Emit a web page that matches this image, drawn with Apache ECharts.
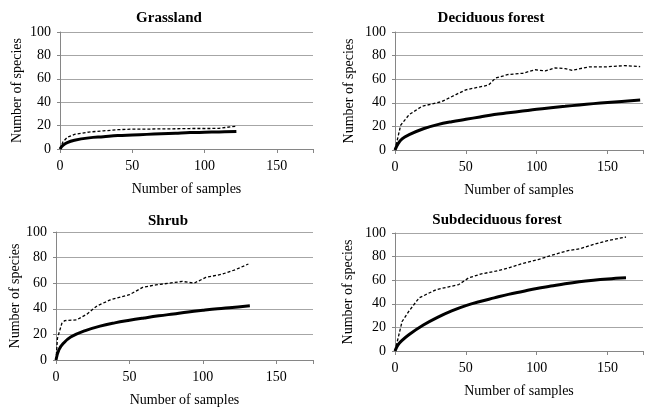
<!DOCTYPE html>
<html>
<head>
<meta charset="utf-8">
<script src="https://cdn.jsdelivr.net/npm/echarts@6/dist/echarts.min.js"></script>
<style>
html,body{margin:0;padding:0;background:#fff;}
#chart{width:646px;height:410px;}
</style>
</head>
<body>
<div id="chart"></div>
<script>
// ---- Data ----
var panelTitles = ['Grassland', 'Deciduous forest', 'Shrub', 'Subdeciduous forest'];
var xTicks = [0, 50, 100, 150];
var yTicks = [0, 20, 40, 60, 80, 100];

var grassSolidX = [0, 2, 5, 10, 20, 30, 40, 50, 60, 70, 80, 90, 100, 110, 122];
var grassSolidY = [0, 3, 5.5, 7.5, 9.5, 10.5, 11.5, 12, 12.5, 13, 13.5, 14, 14.3, 14.6, 15];
var grassDashX = [0, 2, 5, 10, 20, 30, 40, 50, 60, 70, 80, 90, 100, 110, 115, 122];
var grassDashY = [0, 6, 10, 12.5, 14.5, 15.5, 16.5, 17, 17, 17.2, 17.3, 17.5, 17.5, 17.6, 18.5, 19.5];

var decidSolidX = [0, 2, 5, 10, 20, 30, 40, 50, 60, 70, 80, 90, 100, 110, 120, 130, 140, 150, 160, 173];
var decidSolidY = [0, 5, 9.5, 13, 18, 21.5, 24, 26, 28, 30, 31.5, 33, 34.5, 35.8, 37, 38.2, 39.3, 40.3, 41.2, 42.3];
var decidDashX = [0, 4, 10, 19, 33, 43, 50, 66, 71, 80, 90, 99, 106, 113, 120, 125, 132, 137, 148, 162, 173];
var decidDashY = [0, 21, 30, 37, 41, 47, 51, 55, 61, 64, 65, 68, 67, 69.6, 69, 67.5, 69.3, 70.4, 70.4, 71.5, 70.7];

var shrubSolidX = [0, 2, 5, 10, 20, 30, 40, 50, 60, 70, 80, 90, 100, 110, 120, 132];
var shrubSolidY = [0, 8, 13, 18, 23, 26.5, 29, 31, 32.8, 34.5, 36, 37.5, 38.8, 40, 41, 42.3];
var shrubDashX = [0, 1, 4, 6, 14, 21, 28, 37, 50, 59, 68, 77, 86, 94, 102, 113, 122, 131];
var shrubDashY = [0, 17, 28.7, 30.8, 31.3, 35.8, 42.3, 47, 51, 56.7, 58.7, 60, 61.4, 60, 64.5, 67, 70.5, 75];

var subdSolidX = [0, 2, 5, 10, 20, 30, 40, 50, 60, 70, 80, 90, 100, 110, 120, 130, 140, 150, 163];
var subdSolidY = [0, 5, 9, 14, 22, 28.5, 34, 38.5, 42, 45, 48, 50.5, 53, 55, 57, 58.7, 60, 61, 62];
var subdDashX = [0, 5, 10, 17, 29, 38, 45, 52, 61, 71, 80, 89, 101, 113, 122, 131, 141, 150, 163];
var subdDashY = [0, 25, 34, 45, 52, 54.4, 56.3, 62, 65.4, 67.6, 70.4, 73.8, 77.5, 82, 85, 86.8, 90.7, 93.5, 96.6];

function zip(xs, ys) { return xs.map(function (x, i) { return [x, ys[i]]; }); }

var panels = [
  { solid: zip(grassSolidX, grassSolidY), dash: zip(grassDashX, grassDashY) },
  { solid: zip(decidSolidX, decidSolidY), dash: zip(decidDashX, decidDashY) },
  { solid: zip(shrubSolidX, shrubSolidY), dash: zip(shrubDashX, shrubDashY) },
  { solid: zip(subdSolidX, subdSolidY), dash: zip(subdDashX, subdDashY) }
];

// ---- Layout ----
var grids = [
  { left: 60, top: 32, width: 253, height: 117 },
  { left: 395, top: 32, width: 250, height: 118 },
  { left: 56, top: 232, width: 257, height: 128 },
  { left: 395, top: 233, width: 250, height: 118 }
];
var titlePos = [[169, 11], [491, 11], [168, 214], [497, 213]];
var yNameGap = [36, 39, 33, 40];

var font = 'Liberation Serif, Times New Roman, serif';
var option = {
  animation: false,
  backgroundColor: '#fff',
  textStyle: { fontFamily: font, color: '#000' },
  title: [], grid: [], xAxis: [], yAxis: [], series: []
};

grids.forEach(function (g, i) {
  option.grid.push({ left: g.left, top: g.top, width: g.width, height: g.height, containLabel: false });
  option.title.push({
    text: panelTitles[i],
    left: titlePos[i][0],
    top: titlePos[i][1],
    textAlign: 'center',
    padding: 0,
    textStyle: { fontFamily: font, fontWeight: 'bold', fontSize: 15, color: '#000' }
  });
  option.xAxis.push({
    type: 'value', gridIndex: i, min: 0, max: 175, interval: 50,
    name: 'Number of samples', nameLocation: 'middle', nameGap: 33,
    nameTextStyle: { fontFamily: font, fontSize: 14, color: '#000' },
    axisLine: { show: true, onZero: false, lineStyle: { color: '#868686', width: 1 } },
    axisTick: { show: true, length: 4, lineStyle: { color: '#868686' } },
    axisLabel: { fontFamily: font, fontSize: 14, color: '#000', margin: 10,
      formatter: function (v) { return xTicks.indexOf(v) >= 0 ? String(v) : ''; } },
    splitLine: { show: false }
  });
  option.yAxis.push({
    type: 'value', gridIndex: i, min: 0, max: 100, interval: 20,
    name: 'Number of species', nameLocation: 'middle', nameGap: yNameGap[i],
    nameTextStyle: { fontFamily: font, fontSize: 14, color: '#000' },
    axisLine: { show: true, lineStyle: { color: '#868686', width: 1 } },
    axisTick: { show: true, length: 3, lineStyle: { color: '#868686' } },
    axisLabel: { fontFamily: font, fontSize: 14, color: '#000', margin: 9,
      formatter: function (v) { return yTicks.indexOf(v) >= 0 ? String(v) : ''; } },
    splitLine: { show: true, lineStyle: { color: '#a6a6a6', width: 1 } }
  });
  option.series.push({
    type: 'line', xAxisIndex: i, yAxisIndex: i, data: panels[i].dash,
    showSymbol: false, symbol: 'none', smooth: false,
    lineStyle: { color: '#000', width: 1.3, type: [3, 2] }, z: 3
  });
  option.series.push({
    type: 'line', xAxisIndex: i, yAxisIndex: i, data: panels[i].solid,
    showSymbol: false, symbol: 'none', smooth: 0.4,
    lineStyle: { color: '#000', width: 3 }, z: 4
  });
});

var chart = echarts.init(document.getElementById('chart'), null, { renderer: 'canvas' });
chart.setOption(option);
</script>
</body>
</html>
